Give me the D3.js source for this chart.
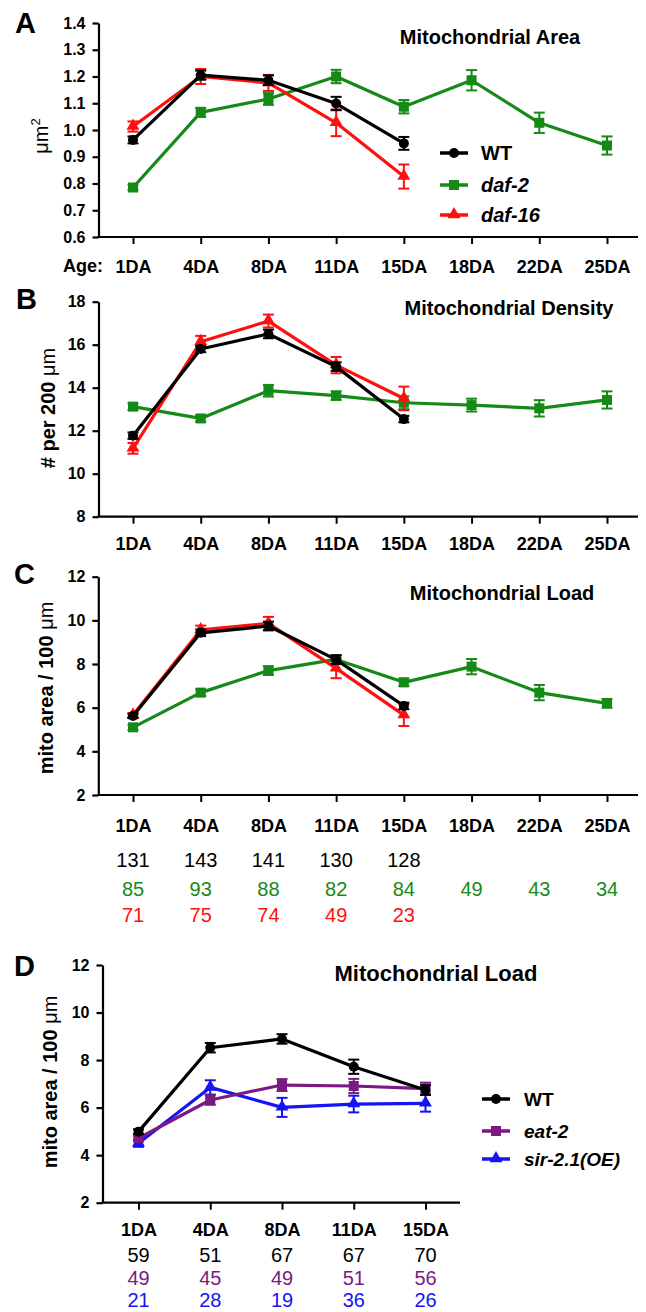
<!DOCTYPE html>
<html><head><meta charset="utf-8">
<script src="https://cdn.jsdelivr.net/npm/d3@7"></script>
<style>
html,body{margin:0;padding:0;background:#fff;}
svg text{font-family:"Liberation Sans",Arial,Helvetica,sans-serif;}
</style>
</head><body>
<svg id="chart" width="646" height="1312"></svg>
<script>
// ---------------- DATA ----------------
const agesAll = ["1DA","4DA","8DA","11DA","15DA","18DA","22DA","25DA"];
const agesShort = ["1DA","4DA","8DA","11DA","15DA"];

// Panel A: Mitochondrial Area (µm²)
const areaWT = [0.963, 1.205, 1.186, 1.099, 0.950];
const areaWTErr = [0.013, 0.017, 0.018, 0.025, 0.024];
const areaDaf2 = [0.785, 1.066, 1.116, 1.200, 1.087, 1.186, 1.027, 0.942];
const areaDaf2Err = [0.010, 0.017, 0.022, 0.025, 0.025, 0.038, 0.038, 0.034];
const areaDaf16 = [1.013, 1.200, 1.176, 1.027, 0.826];
const areaDaf16Err = [0.019, 0.028, 0.030, 0.050, 0.045];

// Panel B: Mitochondrial Density (# per 200 µm)
const densWT = [11.77, 15.80, 16.50, 14.98, 12.54];
const densWTErr = [0.15, 0.15, 0.20, 0.20, 0.15];
const densDaf2 = [13.12, 12.57, 13.86, 13.63, 13.30, 13.19, 13.04, 13.43];
const densDaf2Err = [0.15, 0.15, 0.27, 0.20, 0.30, 0.30, 0.38, 0.40];
const densDaf16 = [11.18, 16.14, 17.10, 15.05, 13.50];
const densDaf16Err = [0.25, 0.27, 0.30, 0.38, 0.55];

// Panel C: Mitochondrial Load (mito area / 100 µm)
const loadWT = [5.62, 9.43, 9.74, 8.20, 6.08];
const loadWTErr = [0.10, 0.15, 0.20, 0.20, 0.15];
const loadDaf2 = [5.10, 6.69, 7.70, 8.21, 7.16, 7.88, 6.69, 6.20];
const loadDaf2Err = [0.12, 0.15, 0.20, 0.20, 0.17, 0.35, 0.35, 0.20];
const loadDaf16 = [5.66, 9.56, 9.86, 7.80, 5.66];
const loadDaf16Err = [0.10, 0.20, 0.30, 0.45, 0.50];

// Panel D: Mitochondrial Load (mito area / 100 µm)
const loadDWT = [4.99, 8.52, 8.89, 7.72, 6.74];
const loadDWTErr = [0.10, 0.20, 0.20, 0.30, 0.20];
const loadEat2 = [4.71, 6.32, 6.95, 6.91, 6.80];
const loadEat2Err = [0.10, 0.20, 0.25, 0.30, 0.25];
const loadSir = [4.50, 6.85, 6.01, 6.15, 6.18];
const loadSirErr = [0.15, 0.30, 0.40, 0.35, 0.35];

// n counts
const nWT = [131, 143, 141, 130, 128];
const nDaf2 = [85, 93, 88, 82, 84, 49, 43, 34];
const nDaf16 = [71, 75, 74, 49, 23];
const nDWT = [59, 51, 67, 67, 70];
const nEat2 = [49, 45, 49, 51, 56];
const nSir = [21, 28, 19, 36, 26];

const ticksA = [0.6,0.7,0.8,0.9,1.0,1.1,1.2,1.3,1.4];
const ticksB = [8,10,12,14,16,18];
const ticksCD = [2,4,6,8,10,12];

// ---------------- STYLE ----------------
const COL = {wt:"#000000", daf2:"#168a16", daf16:"#ff0f0f", eat2:"#7a1a82", sir:"#1414f5"};
const FONT = '"Liberation Sans",Arial,Helvetica,sans-serif';

const svg = d3.select("#chart");

function series(name, vals, errs, color, shape){ return {name, vals, errs, color, shape}; }

function marker(g, shape, color, cx, cy){
  if(shape==="circle"){
    g.append("circle").attr("cx",cx).attr("cy",cy).attr("r",5).attr("fill",color);
  } else if(shape==="square"){
    g.append("rect").attr("x",cx-5).attr("y",cy-5).attr("width",10).attr("height",10).attr("fill",color);
  } else {
    const s = d3.symbol().type(d3.symbolTriangle).size(72);
    g.append("path").attr("d",s()).attr("transform",`translate(${cx},${cy-0.5})`).attr("fill",color);
  }
}

function drawPanel(p){
  const g = svg.append("g");
  const x = d3.scalePoint().domain(p.cats).range(p.xRange);
  const y = d3.scaleLinear().domain(p.yDomain).range(p.yRange);

  // y axis
  const ya = g.append("g").attr("transform",`translate(${p.axisX},0)`)
    .call(d3.axisLeft(y).tickValues(p.yTicks).tickSize(6).tickSizeOuter(0).tickPadding(7).tickFormat(p.yFmt));
  ya.select(".domain").attr("stroke","#000").attr("stroke-width",2.2);
  ya.selectAll(".tick line").attr("stroke","#000").attr("stroke-width",2.2);
  ya.selectAll(".tick text").attr("fill","#000").style("font-family",FONT).style("font-weight","bold").style("font-size",p.yTickFont+"px");

  // x axis line
  g.append("line").attr("x1",p.axisX-1).attr("x2",p.xEnd).attr("y1",y(p.yDomain[0])).attr("y2",y(p.yDomain[0]))
    .attr("stroke","#000").attr("stroke-width",2.2);
  const xa = g.append("g").attr("transform",`translate(0,${y(p.yDomain[0])})`)
    .call(d3.axisBottom(x).tickSize(7).tickSizeOuter(0).tickPadding(p.xPad));
  xa.select(".domain").remove();
  xa.selectAll(".tick line").attr("stroke","#000").attr("stroke-width",2);
  xa.selectAll(".tick text").attr("fill","#000").style("font-family",FONT).style("font-weight","bold").style("font-size",p.xTickFont+"px");

  // series
  const line = d3.line().x(d=>x(d.c)).y(d=>y(d.v));
  p.series.forEach(s=>{
    const pts = s.vals.map((v,i)=>({c:p.cats[i], v, e:s.errs[i]}));
    const sg = g.append("g");
    sg.append("path").datum(pts).attr("d",line).attr("fill","none").attr("stroke",s.color).attr("stroke-width",3.2).attr("stroke-linejoin","round");
    pts.forEach(d=>{
      const cx = x(d.c);
      const y1 = y(d.v+d.e), y2 = y(d.v-d.e);
      sg.append("line").attr("x1",cx).attr("x2",cx).attr("y1",y1).attr("y2",y2).attr("stroke",s.color).attr("stroke-width",2);
      [y1,y2].forEach(yy=>sg.append("line").attr("x1",cx-5.5).attr("x2",cx+5.5).attr("y1",yy).attr("y2",yy).attr("stroke",s.color).attr("stroke-width",2));
      marker(sg, s.shape, s.color, cx, y(d.v));
    });
  });

  // title
  g.append("text").attr("x",p.titleX).attr("y",p.titleY).attr("text-anchor","middle").attr("dominant-baseline","central")
    .style("font-weight","bold").style("font-size",p.titleFont+"px").text(p.title);

  // panel letter
  g.append("text").attr("x",p.letterX).attr("y",p.letterY).attr("text-anchor","middle").attr("dominant-baseline","central")
    .style("font-weight","bold").style("font-size","29px").text(p.letter);

  // y label
  const yl = g.append("text").attr("transform",`translate(${p.yLabelX},${p.yLabelY}) rotate(-90)`)
    .attr("text-anchor","middle").attr("dominant-baseline","central")
    .style("font-weight",p.yLabelWeight||"bold").style("font-size",p.yLabelFont+"px");
  p.yLabel(yl);

  // legend
  if(p.legend){
    p.legend.items.forEach((it,i)=>{
      const ly = p.legend.ys[i];
      g.append("line").attr("x1",p.legend.x1).attr("x2",p.legend.x2).attr("y1",ly).attr("y2",ly).attr("stroke",it.color).attr("stroke-width",3.5);
      marker(g, it.shape, it.color, (p.legend.x1+p.legend.x2)/2, ly);
      g.append("text").attr("x",p.legend.tx).attr("y",ly).attr("dominant-baseline","central")
        .style("font-weight","bold").style("font-style",it.italic?"italic":"normal").style("font-size",p.legend.font+"px").text(it.name);
    });
  }

  // counts rows
  if(p.counts){
    p.counts.forEach(r=>{
      r.vals.forEach((v,i)=>{
        g.append("text").attr("x",x(p.cats[i])).attr("y",r.y).attr("text-anchor","middle").attr("dominant-baseline","central")
          .style("font-size",p.countFont+"px").attr("fill",r.color).text(v);
      });
    });
  }
  return {x,y,g};
}

// Panel A
const pA = drawPanel({
  cats: agesAll, xRange:[133,607], yDomain:[0.6,1.4], yRange:[237,23], axisX:98.5, xEnd:638,
  yTicks: ticksA, yFmt: d3.format(".1f"), yTickFont:16, xTickFont:18, xPad:16,
  series:[
    series("daf-2", areaDaf2, areaDaf2Err, COL.daf2, "square"),
    series("daf-16", areaDaf16, areaDaf16Err, COL.daf16, "triangle"),
    series("WT", areaWT, areaWTErr, COL.wt, "circle")
  ],
  title:"Mitochondrial Area", titleX:490, titleY:37, titleFont:20,
  letter:"A", letterX:25.5, letterY:23,
  yLabelX:41, yLabelY:136, yLabelFont:20, yLabelWeight:"normal",
  yLabel: t=>{ t.append("tspan").text("\u03bcm"); t.append("tspan").attr("dy","-0.45em").style("font-size","13px").text("2"); },
  legend:{x1:440,x2:468,tx:481,ys:[153,185,215],font:20,items:[
    {name:"WT",color:COL.wt,shape:"circle"},
    {name:"daf-2",color:COL.daf2,shape:"square",italic:true},
    {name:"daf-16",color:COL.daf16,shape:"triangle",italic:true}]}
});
svg.append("text").attr("x",63).attr("y",pA.y(0.6)+29).attr("dominant-baseline","central")
  .style("font-weight","bold").style("font-size","18px").text("Age:");

// Panel B
drawPanel({
  cats: agesAll, xRange:[133,607], yDomain:[8,18], yRange:[516.7,301.7], axisX:98.5, xEnd:638,
  yTicks: ticksB, yFmt: d3.format("d"), yTickFont:16, xTickFont:18, xPad:13.5,
  series:[
    series("daf-2", densDaf2, densDaf2Err, COL.daf2, "square"),
    series("daf-16", densDaf16, densDaf16Err, COL.daf16, "triangle"),
    series("WT", densWT, densWTErr, COL.wt, "circle")
  ],
  title:"Mitochondrial Density", titleX:509, titleY:308, titleFont:20,
  letter:"B", letterX:26.5, letterY:299,
  yLabelX:48, yLabelY:408, yLabelFont:20,
  yLabel: t=>{ t.append("tspan").text("# per 200 "); t.append("tspan").style("font-weight","normal").text("\u03bcm"); }
});

// Panel C
drawPanel({
  cats: agesAll, xRange:[133,607], yDomain:[2,12], yRange:[795,576.7], axisX:98.3, xEnd:638,
  yTicks: ticksCD, yFmt: d3.format("d"), yTickFont:16, xTickFont:18, xPad:17,
  series:[
    series("daf-2", loadDaf2, loadDaf2Err, COL.daf2, "square"),
    series("daf-16", loadDaf16, loadDaf16Err, COL.daf16, "triangle"),
    series("WT", loadWT, loadWTErr, COL.wt, "circle")
  ],
  title:"Mitochondrial Load", titleX:502, titleY:593, titleFont:20,
  letter:"C", letterX:24.5, letterY:574,
  yLabelX:46, yLabelY:688, yLabelFont:20,
  yLabel: t=>{ t.append("tspan").text("mito area / 100 "); t.append("tspan").style("font-weight","normal").text("\u03bcm"); },
  counts:[{vals:nWT,y:860,color:"#000"},{vals:nDaf2,y:889,color:COL.daf2},{vals:nDaf16,y:915,color:COL.daf16}],
  countFont:20
});

// Panel D
drawPanel({
  cats: agesShort, xRange:[138.5,425.5], yDomain:[2,12], yRange:[1202.7,965], axisX:102.5, xEnd:460,
  yTicks: ticksCD, yFmt: d3.format("d"), yTickFont:16, xTickFont:18, xPad:14,
  series:[
    series("sir-2.1(OE)", loadSir, loadSirErr, COL.sir, "triangle"),
    series("eat-2", loadEat2, loadEat2Err, COL.eat2, "square"),
    series("WT", loadDWT, loadDWTErr, COL.wt, "circle")
  ],
  title:"Mitochondrial Load", titleX:436, titleY:973, titleFont:22,
  letter:"D", letterX:24.5, letterY:966,
  yLabelX:50, yLabelY:1082, yLabelFont:20,
  yLabel: t=>{ t.append("tspan").text("mito area / 100 "); t.append("tspan").style("font-weight","normal").text("\u03bcm"); },
  legend:{x1:482,x2:510,tx:524,ys:[1099,1131,1159],font:19,items:[
    {name:"WT",color:COL.wt,shape:"circle"},
    {name:"eat-2",color:COL.eat2,shape:"square",italic:true},
    {name:"sir-2.1(OE)",color:COL.sir,shape:"triangle",italic:true}]},
  counts:[{vals:nDWT,y:1255,color:"#000"},{vals:nEat2,y:1278,color:COL.eat2},{vals:nSir,y:1300,color:COL.sir}],
  countFont:20
});
</script>
</body></html>
